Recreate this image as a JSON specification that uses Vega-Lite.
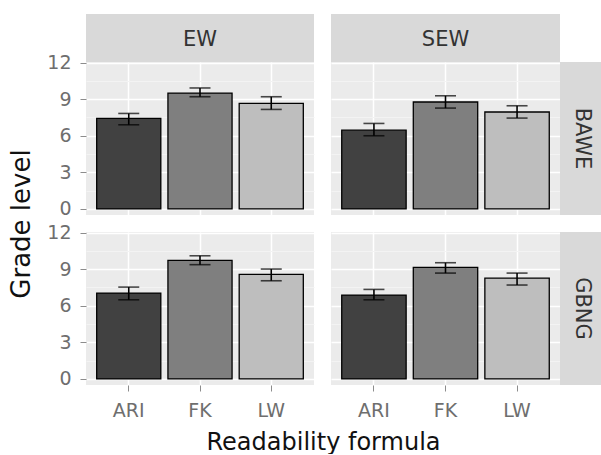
{
  "$schema": "https://vega.github.io/schema/vega-lite/v6.json",
  "padding": {"left": 8, "top": 8, "right": 0, "bottom": 0},
  "background": "white",
  "config": {
    "font": "DejaVu Sans",
    "view": {"stroke": null},
    "axis": {"labelFont": "DejaVu Sans", "titleFont": "DejaVu Sans"}
  },
  "datasets": {
    "grades": [
      {"corpus": "BAWE", "wiki": "EW", "formula": "ARI", "mean": 7.42, "lo": 6.9, "hi": 7.83},
      {"corpus": "BAWE", "wiki": "EW", "formula": "FK", "mean": 9.5, "lo": 9.2, "hi": 9.92},
      {"corpus": "BAWE", "wiki": "EW", "formula": "LW", "mean": 8.65, "lo": 8.16, "hi": 9.2},
      {"corpus": "BAWE", "wiki": "SEW", "formula": "ARI", "mean": 6.46, "lo": 6.0, "hi": 7.01},
      {"corpus": "BAWE", "wiki": "SEW", "formula": "FK", "mean": 8.77, "lo": 8.27, "hi": 9.28},
      {"corpus": "BAWE", "wiki": "SEW", "formula": "LW", "mean": 7.95, "lo": 7.45, "hi": 8.46},
      {"corpus": "GBNG", "wiki": "EW", "formula": "ARI", "mean": 7.04, "lo": 6.49, "hi": 7.53},
      {"corpus": "GBNG", "wiki": "EW", "formula": "FK", "mean": 9.72, "lo": 9.37, "hi": 10.1},
      {"corpus": "GBNG", "wiki": "EW", "formula": "LW", "mean": 8.57, "lo": 8.05, "hi": 9.01},
      {"corpus": "GBNG", "wiki": "SEW", "formula": "ARI", "mean": 6.88, "lo": 6.49, "hi": 7.34},
      {"corpus": "GBNG", "wiki": "SEW", "formula": "FK", "mean": 9.15, "lo": 8.68, "hi": 9.53},
      {"corpus": "GBNG", "wiki": "SEW", "formula": "LW", "mean": 8.27, "lo": 7.7, "hi": 8.68}
    ]
  },
  "columns": 4,
  "align": "each",
  "bounds": "flush",
  "spacing": 0,
  "resolve": {"scale": {"x": "independent", "y": "independent", "color": "independent"}},
  "concat": [
    {
      "width": 228, "height": 48,
      "view": {"fill": "#d9d9d9", "stroke": null},
      "data": {"values": [{"label": "EW"}]},
      "mark": {"type": "text", "fontSize": 21, "color": "#333333", "font": "DejaVu Sans", "dy": 2},
      "encoding": {"text": {"field": "label"}}
    },
    {"width": 17, "height": 1, "data": {"values": [{}]}, "mark": {"type": "text", "text": ""}},
    {
      "width": 229, "height": 48,
      "view": {"fill": "#d9d9d9", "stroke": null},
      "data": {"values": [{"label": "SEW"}]},
      "mark": {"type": "text", "fontSize": 21, "color": "#333333", "font": "DejaVu Sans", "dy": 2},
      "encoding": {"text": {"field": "label"}}
    },
    {"width": 1, "height": 1, "data": {"values": [{}]}, "mark": {"type": "text", "text": ""}},

    {
      "width": 228, "height": 153,
      "data": {"name": "grades"},
      "transform": [{"filter": "datum.corpus == 'BAWE' && datum.wiki == 'EW'"}],
      "view": {"fill": "#ebebeb", "stroke": null},
      "resolve": {"axis": {"y": "independent"}},
      "encoding": {
        "x": {"field": "formula", "type": "nominal", "sort": ["ARI", "FK", "LW"],
          "scale": {"paddingInner": 0.1, "paddingOuter": 0.15},
          "axis": {"labels": false, "ticks": false, "domain": false, "title": null, "grid": true, "gridColor": "white", "gridWidth": 1.5, "bandPosition": 0.5}}
      },
      "layer": [
        {
          "mark": {"type": "bar", "stroke": "black", "strokeWidth": 1.3},
          "encoding": {
            "y": {"field": "mean", "type": "quantitative",
              "scale": {"domain": [-0.5, 12.05], "nice": false, "zero": false},
              "axis": {"values": [0, 3, 6, 9, 12], "grid": true, "gridColor": "white", "gridWidth": 1.5, "domain": false,
                "tickColor": "#8c8c8c", "tickSize": 6, "labelPadding": 9, "labelColor": "#6e6e6e", "labelFontSize": 19,
                "title": "Grade level", "titleY": 161.5, "titlePadding": 12, "titleFontSize": 26, "titleFontWeight": "normal", "titleColor": "#111111"}},
            "y2": {"datum": 0},
            "color": {"field": "formula", "type": "nominal", "scale": {"domain": ["ARI", "FK", "LW"], "range": ["#414141", "#7f7f7f", "#bebebe"]}, "legend": null}
          }
        },
        {
          "mark": {"type": "rule", "color": "black", "strokeWidth": 1.6},
          "encoding": {
            "y": {"field": "lo", "type": "quantitative",
              "axis": {"values": [1.5, 4.5, 7.5, 10.5], "orient": "left", "grid": true, "gridColor": "#f3f3f3", "gridWidth": 1, "labels": false, "ticks": false, "domain": false, "title": null}},
            "y2": {"field": "hi"}
          }
        },
        {"mark": {"type": "tick", "color": "black", "size": 21, "thickness": 1.6}, "encoding": {"y": {"field": "lo", "type": "quantitative", "axis": null}}},
        {"mark": {"type": "tick", "color": "black", "size": 21, "thickness": 1.6}, "encoding": {"y": {"field": "hi", "type": "quantitative", "axis": null}}}
      ]
    },
    {"width": 17, "height": 1, "data": {"values": [{}]}, "mark": {"type": "text", "text": ""}},
    {
      "width": 229, "height": 153,
      "data": {"name": "grades"},
      "transform": [{"filter": "datum.corpus == 'BAWE' && datum.wiki == 'SEW'"}],
      "view": {"fill": "#ebebeb", "stroke": null},
      "resolve": {"axis": {"y": "independent"}},
      "encoding": {
        "x": {"field": "formula", "type": "nominal", "sort": ["ARI", "FK", "LW"],
          "scale": {"paddingInner": 0.1, "paddingOuter": 0.15},
          "axis": {"labels": false, "ticks": false, "domain": false, "title": null, "grid": true, "gridColor": "white", "gridWidth": 1.5, "bandPosition": 0.5}}
      },
      "layer": [
        {
          "mark": {"type": "bar", "stroke": "black", "strokeWidth": 1.3},
          "encoding": {
            "y": {"field": "mean", "type": "quantitative",
              "scale": {"domain": [-0.5, 12.05], "nice": false, "zero": false},
              "axis": {"values": [0, 3, 6, 9, 12], "grid": true, "gridColor": "white", "gridWidth": 1.5, "domain": false, "labels": false, "ticks": false, "title": null}},
            "y2": {"datum": 0},
            "color": {"field": "formula", "type": "nominal", "scale": {"domain": ["ARI", "FK", "LW"], "range": ["#414141", "#7f7f7f", "#bebebe"]}, "legend": null}
          }
        },
        {
          "mark": {"type": "rule", "color": "black", "strokeWidth": 1.6},
          "encoding": {
            "y": {"field": "lo", "type": "quantitative",
              "axis": {"values": [1.5, 4.5, 7.5, 10.5], "orient": "left", "grid": true, "gridColor": "#f3f3f3", "gridWidth": 1, "labels": false, "ticks": false, "domain": false, "title": null}},
            "y2": {"field": "hi"}
          }
        },
        {"mark": {"type": "tick", "color": "black", "size": 21, "thickness": 1.6}, "encoding": {"y": {"field": "lo", "type": "quantitative", "axis": null}}},
        {"mark": {"type": "tick", "color": "black", "size": 21, "thickness": 1.6}, "encoding": {"y": {"field": "hi", "type": "quantitative", "axis": null}}}
      ]
    },
    {
      "width": 43, "height": 153,
      "view": {"fill": "#d9d9d9", "stroke": null},
      "data": {"values": [{"label": "BAWE"}]},
      "mark": {"type": "text", "fontSize": 21, "color": "#333333", "font": "DejaVu Sans", "angle": 90},
      "encoding": {"text": {"field": "label"}}
    },

    {"width": 1, "height": 17, "data": {"values": [{}]}, "mark": {"type": "text", "text": ""}},
    {"width": 17, "height": 17, "data": {"values": [{}]}, "mark": {"type": "text", "text": ""}},
    {"width": 1, "height": 17, "data": {"values": [{}]}, "mark": {"type": "text", "text": ""}},
    {"width": 1, "height": 17, "data": {"values": [{}]}, "mark": {"type": "text", "text": ""}},

    {
      "width": 228, "height": 153,
      "data": {"name": "grades"},
      "transform": [{"filter": "datum.corpus == 'GBNG' && datum.wiki == 'EW'"}],
      "view": {"fill": "#ebebeb", "stroke": null},
      "resolve": {"axis": {"y": "independent"}},
      "encoding": {
        "x": {"field": "formula", "type": "nominal", "sort": ["ARI", "FK", "LW"],
          "scale": {"paddingInner": 0.1, "paddingOuter": 0.15},
          "axis": {"labelAngle": 0, "domain": false, "grid": true, "gridColor": "white", "gridWidth": 1.5, "bandPosition": 0.5,
            "tickColor": "#8c8c8c", "tickSize": 6, "labelPadding": 10, "labelColor": "#6e6e6e", "labelFontSize": 19,
            "title": "Readability formula", "titleX": 237, "titleY": 64, "titleBaseline": "alphabetic", "titleFontSize": 24, "titleFontWeight": "normal", "titleColor": "#111111"}}
      },
      "layer": [
        {
          "mark": {"type": "bar", "stroke": "black", "strokeWidth": 1.3},
          "encoding": {
            "y": {"field": "mean", "type": "quantitative",
              "scale": {"domain": [-0.5, 12.05], "nice": false, "zero": false},
              "axis": {"values": [0, 3, 6, 9, 12], "grid": true, "gridColor": "white", "gridWidth": 1.5, "domain": false,
                "tickColor": "#8c8c8c", "tickSize": 6, "labelPadding": 9, "labelColor": "#6e6e6e", "labelFontSize": 19, "title": null}},
            "y2": {"datum": 0},
            "color": {"field": "formula", "type": "nominal", "scale": {"domain": ["ARI", "FK", "LW"], "range": ["#414141", "#7f7f7f", "#bebebe"]}, "legend": null}
          }
        },
        {
          "mark": {"type": "rule", "color": "black", "strokeWidth": 1.6},
          "encoding": {
            "y": {"field": "lo", "type": "quantitative",
              "axis": {"values": [1.5, 4.5, 7.5, 10.5], "orient": "left", "grid": true, "gridColor": "#f3f3f3", "gridWidth": 1, "labels": false, "ticks": false, "domain": false, "title": null}},
            "y2": {"field": "hi"}
          }
        },
        {"mark": {"type": "tick", "color": "black", "size": 21, "thickness": 1.6}, "encoding": {"y": {"field": "lo", "type": "quantitative", "axis": null}}},
        {"mark": {"type": "tick", "color": "black", "size": 21, "thickness": 1.6}, "encoding": {"y": {"field": "hi", "type": "quantitative", "axis": null}}}
      ]
    },
    {"width": 17, "height": 1, "data": {"values": [{}]}, "mark": {"type": "text", "text": ""}},
    {
      "width": 229, "height": 153,
      "data": {"name": "grades"},
      "transform": [{"filter": "datum.corpus == 'GBNG' && datum.wiki == 'SEW'"}],
      "view": {"fill": "#ebebeb", "stroke": null},
      "resolve": {"axis": {"y": "independent"}},
      "encoding": {
        "x": {"field": "formula", "type": "nominal", "sort": ["ARI", "FK", "LW"],
          "scale": {"paddingInner": 0.1, "paddingOuter": 0.15},
          "axis": {"labelAngle": 0, "domain": false, "grid": true, "gridColor": "white", "gridWidth": 1.5, "bandPosition": 0.5,
            "tickColor": "#8c8c8c", "tickSize": 6, "labelPadding": 10, "labelColor": "#6e6e6e", "labelFontSize": 19, "title": null}}
      },
      "layer": [
        {
          "mark": {"type": "bar", "stroke": "black", "strokeWidth": 1.3},
          "encoding": {
            "y": {"field": "mean", "type": "quantitative",
              "scale": {"domain": [-0.5, 12.05], "nice": false, "zero": false},
              "axis": {"values": [0, 3, 6, 9, 12], "grid": true, "gridColor": "white", "gridWidth": 1.5, "domain": false, "labels": false, "ticks": false, "title": null}},
            "y2": {"datum": 0},
            "color": {"field": "formula", "type": "nominal", "scale": {"domain": ["ARI", "FK", "LW"], "range": ["#414141", "#7f7f7f", "#bebebe"]}, "legend": null}
          }
        },
        {
          "mark": {"type": "rule", "color": "black", "strokeWidth": 1.6},
          "encoding": {
            "y": {"field": "lo", "type": "quantitative",
              "axis": {"values": [1.5, 4.5, 7.5, 10.5], "orient": "left", "grid": true, "gridColor": "#f3f3f3", "gridWidth": 1, "labels": false, "ticks": false, "domain": false, "title": null}},
            "y2": {"field": "hi"}
          }
        },
        {"mark": {"type": "tick", "color": "black", "size": 21, "thickness": 1.6}, "encoding": {"y": {"field": "lo", "type": "quantitative", "axis": null}}},
        {"mark": {"type": "tick", "color": "black", "size": 21, "thickness": 1.6}, "encoding": {"y": {"field": "hi", "type": "quantitative", "axis": null}}}
      ]
    },
    {
      "width": 43, "height": 153,
      "view": {"fill": "#d9d9d9", "stroke": null},
      "data": {"values": [{"label": "GBNG"}]},
      "mark": {"type": "text", "fontSize": 21, "color": "#333333", "font": "DejaVu Sans", "angle": 90},
      "encoding": {"text": {"field": "label"}}
    }
  ]
}
